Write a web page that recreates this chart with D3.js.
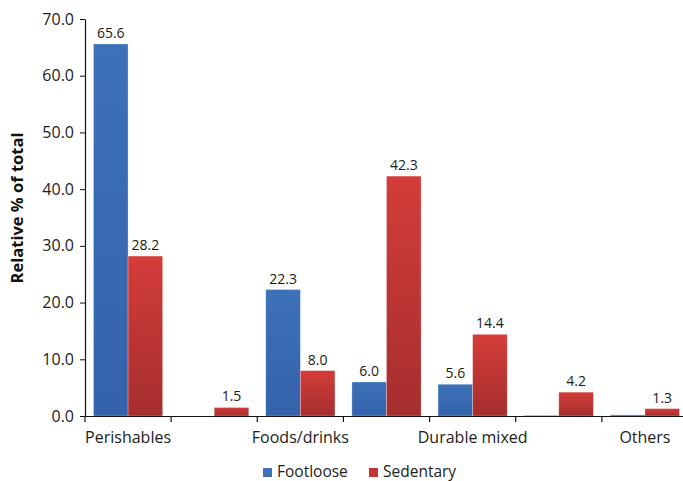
<!DOCTYPE html>
<html>
<head>
<meta charset="utf-8">
<script src="https://cdn.jsdelivr.net/npm/d3@7"></script>
<style>
  html, body { margin: 0; padding: 0; background: #fff; }
  svg { display: block; font-family: "Open Sans", "DejaVu Sans", sans-serif; }
</style>
</head>
<body>
<svg id="chart" width="683" height="481"></svg>
<script>
// Shop types (every other category is left unlabelled on the axis)
const categories = ["Perishables", "Daily goods", "Foods/drinks", "Clothing", "Durable mixed", "Leisure", "Others"];
const tickLabels = ["Perishables", "", "Foods/drinks", "", "Durable mixed", "", "Others"];
const footloose = [65.6, 0.0, 22.3, 6.0, 5.6, 0.1, 0.2];
const sedentary = [28.2, 1.5, 8.0, 42.3, 14.4, 4.2, 1.3];
const seriesNames = ["Footloose", "Sedentary"];
const yTicks = [0, 10, 20, 30, 40, 50, 60, 70];

const svg = d3.select("#chart");
const plotLeft = 85, plotRight = 688, plotTop = 19, plotBottom = 416;

const x = d3.scaleBand().domain(categories).range([plotLeft, plotRight]).paddingInner(0).paddingOuter(0);
const inner = d3.scaleBand().domain(seriesNames).range([0, x.bandwidth()]).paddingOuter(0.245).paddingInner(0);
const y = d3.scaleLinear().domain([0, 70]).range([plotBottom, plotTop]);

const defs = svg.append("defs");
const grads = [
  { id: "gBlue", c0: "#3d71b8", c1: "#3462ab" },
  { id: "gRed", c0: "#d33d39", c1: "#a52e2e" }
];
grads.forEach(g => {
  const lg = defs.append("linearGradient").attr("id", g.id)
    .attr("x1", 0).attr("y1", 0).attr("x2", 0).attr("y2", 1);
  lg.append("stop").attr("offset", "0%").attr("stop-color", g.c0);
  lg.append("stop").attr("offset", "100%").attr("stop-color", g.c1);
});
const fills = { Footloose: "url(#gBlue)", Sedentary: "url(#gRed)" };
const swatch = { Footloose: "#3d71b8", Sedentary: "#c23634" };

const rows = categories.map((c, i) => ({ cat: c, vals: [
  { s: "Footloose", v: footloose[i] },
  { s: "Sedentary", v: sedentary[i] }
]}));

// Bars
const groups = svg.append("g").selectAll("g").data(rows).join("g")
  .attr("transform", d => `translate(${x(d.cat)},0)`);

groups.selectAll("rect").data(d => d.vals.filter(e => e.v > 0)).join("rect")
  .attr("x", d => inner(d.s))
  .attr("width", inner.bandwidth())
  .attr("y", d => y(d.v))
  .attr("height", d => Math.max(1, plotBottom - y(d.v)))
  .attr("fill", d => fills[d.s])
  .attr("stroke", "rgba(255,255,255,0.35)")
  .attr("stroke-width", 0.8);

// Value labels (only for the readable bars)
groups.selectAll("text").data(d => d.vals.filter(e => e.v >= 1)).join("text")
  .attr("x", d => inner(d.s) + inner.bandwidth() / 2)
  .attr("y", d => y(d.v) - 6)
  .attr("text-anchor", "middle")
  .attr("font-size", 14)
  .attr("fill", "#1a1a1a")
  .text(d => d.v.toFixed(1));

// Y axis
const yAxis = svg.append("g").attr("transform", `translate(${plotLeft},0)`)
  .call(d3.axisLeft(y).tickValues(yTicks).tickFormat(d3.format(".1f")).tickSize(5).tickSizeOuter(0));
yAxis.select(".domain").attr("stroke", "#111").attr("stroke-width", 1.2);
yAxis.selectAll(".tick line").attr("stroke", "#111");
yAxis.selectAll("text").attr("font-size", 16).attr("fill", "#222")
  .attr("font-family", "'Open Sans', 'DejaVu Sans', sans-serif").attr("x", -11);

// X axis
const xAxis = svg.append("g").attr("transform", `translate(0,${plotBottom})`)
  .call(d3.axisBottom(x).tickSize(0).tickFormat((d, i) => tickLabels[i]));
xAxis.select(".domain").attr("stroke", "#111").attr("stroke-width", 1.2);
xAxis.selectAll("text").attr("font-size", 16).attr("fill", "#222")
  .attr("font-family", "'Open Sans', 'DejaVu Sans', sans-serif").attr("y", 12).attr("dy", "0.95em");
// Tick marks between categories
svg.append("g").selectAll("line").data(categories).join("line")
  .attr("x1", d => x(d)).attr("x2", d => x(d))
  .attr("y1", plotBottom).attr("y2", plotBottom + 6)
  .attr("stroke", "#111").attr("stroke-width", 1.2);

// Y axis title
svg.append("text")
  .attr("transform", `translate(23,208) rotate(-90)`)
  .attr("text-anchor", "middle")
  .attr("font-size", 16.5)
  .attr("font-weight", "bold")
  .attr("fill", "#111")
  .text("Relative % of total");

// Legend
const legendX = [263, 369];
const legend = svg.append("g").selectAll("g").data(seriesNames).join("g")
  .attr("transform", (d, i) => `translate(${legendX[i]},${468})`);
legend.append("rect").attr("width", 9).attr("height", 9).attr("fill", d => swatch[d]);
legend.append("text").attr("x", 14).attr("y", 9)
  .attr("font-size", 15.5).attr("fill", "#222").text(d => d);
</script>
</body>
</html>
